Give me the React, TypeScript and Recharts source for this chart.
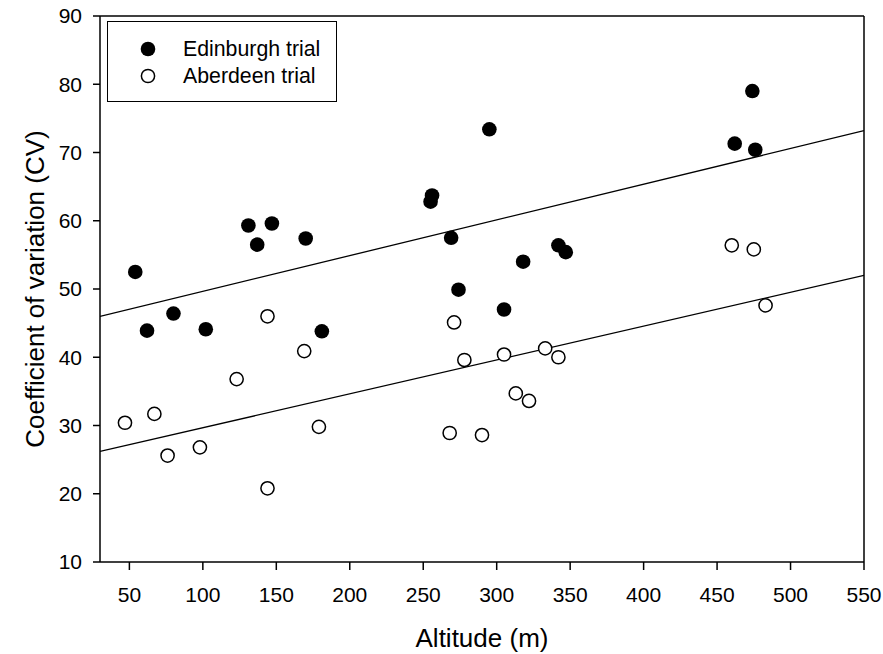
import React from 'react';
import { ScatterChart, Scatter, XAxis, YAxis, ReferenceLine, Legend, Label } from 'recharts';

const edinburghAlt = [54, 62, 80, 102, 181, 131, 147, 137, 170, 295, 256, 255, 269, 274, 305, 318, 342, 347, 474, 462, 476];
const edinburghCV = [52.5, 43.9, 46.4, 44.1, 43.8, 59.3, 59.6, 56.5, 57.4, 73.4, 63.7, 62.8, 57.5, 49.9, 47.0, 54.0, 56.4, 55.4, 79.0, 71.3, 70.4];

const aberdeenAlt = [47, 67, 76, 98, 123, 144, 144, 169, 179, 271, 278, 305, 333, 342, 313, 322, 268, 290, 460, 475, 483];
const aberdeenCV = [30.4, 31.7, 25.6, 26.8, 36.8, 46.0, 20.8, 40.9, 29.8, 45.1, 39.6, 40.4, 41.3, 40.0, 34.7, 33.6, 28.9, 28.6, 56.4, 55.8, 47.6];

const fitAlt = [30, 550];
const edinburghFit = [46.0, 73.2];
const aberdeenFit = [26.2, 52.0];

const xTicks = [50, 100, 150, 200, 250, 300, 350, 400, 450, 500, 550];
const yTicks = [10, 20, 30, 40, 50, 60, 70, 80, 90];

const seriesNames = ['Edinburgh trial', 'Aberdeen trial'];

const edinburgh = edinburghAlt.map((x, i) => ({ x, y: edinburghCV[i] }));
const aberdeen = aberdeenAlt.map((x, i) => ({ x, y: aberdeenCV[i] }));
const edinburghLine = fitAlt.map((x, i) => ({ x, y: edinburghFit[i] }));
const aberdeenLine = fitAlt.map((x, i) => ({ x, y: aberdeenFit[i] }));

const FONT = '"Liberation Sans", Arial, Helvetica, sans-serif';

const FilledDot = (p: any) => <circle cx={p.cx} cy={p.cy} r={7.3} fill="#000" />;
const OpenDot = (p: any) => (
  <circle cx={p.cx} cy={p.cy} r={6.6} fill="#fff" stroke="#000" strokeWidth={1.5} />
);
const NoDot = () => <g />;

const LegendBox = () => (
  <div
    style={{
      width: 230,
      height: 81,
      boxSizing: 'border-box',
      border: '1.5px solid #000',
      background: '#fff',
      position: 'relative',
      fontFamily: FONT,
      fontSize: 21.3,
      color: '#000',
    }}
  >
    {seriesNames.map((name, i) => (
      <div key={name} style={{ position: 'absolute', left: 0, top: 27 + i * 26.5 - 12, height: 24, width: 228 }}>
        <svg width={20} height={20} style={{ position: 'absolute', left: 29.5, top: 2 }}>
          {i === 0 ? (
            <circle cx={10} cy={10} r={7.3} fill="#000" />
          ) : (
            <circle cx={10} cy={10} r={6.6} fill="#fff" stroke="#000" strokeWidth={1.5} />
          )}
        </svg>
        <span style={{ position: 'absolute', left: 75, top: 0, lineHeight: '24px', whiteSpace: 'nowrap' }}>{name}</span>
      </div>
    ))}
  </div>
);

const YTitle = (props: any) => {
  const vb = props.viewBox || {};
  const cx = 35;
  const cy = (vb.y ?? 16) + (vb.height ?? 546) / 2;
  return (
    <text
      x={cx}
      y={cy}
      transform={`rotate(-90, ${cx}, ${cy})`}
      textAnchor="middle"
      dy="0.355em"
      fontFamily={FONT}
      fontSize={26}
      fill="#000"
    >
      Coefficient of variation (CV)
    </text>
  );
};

const XTitle = (props: any) => {
  const vb = props.viewBox || {};
  const cx = (vb.x ?? 100) + (vb.width ?? 764) / 2;
  return (
    <text x={cx} y={646.5} textAnchor="middle" fontFamily={FONT} fontSize={26} fill="#000">
      Altitude (m)
    </text>
  );
};

export default function App() {
  return (
    <div style={{ position: 'absolute', left: 0, top: 0, width: 883, height: 654, background: '#fff' }}>
      <ScatterChart width={883} height={654} margin={{ top: 16, right: 19, left: 0, bottom: 0 }}>
        <XAxis
          type="number"
          dataKey="x"
          domain={[30, 550]}
          ticks={xTicks}
          allowDataOverflow
          height={92}
          tickSize={8}
          tickMargin={17}
          axisLine={{ stroke: '#000', strokeWidth: 1.5 }}
          tickLine={{ stroke: '#000', strokeWidth: 1.5 }}
          tick={{ fill: '#000', fontSize: 21, fontFamily: FONT }}
        >
          <Label content={<XTitle />} />
        </XAxis>
        <YAxis
          type="number"
          dataKey="y"
          domain={[10, 90]}
          ticks={yTicks}
          allowDataOverflow
          width={100}
          tickSize={7}
          tickMargin={11}
          axisLine={{ stroke: '#000', strokeWidth: 1.5 }}
          tickLine={{ stroke: '#000', strokeWidth: 1.5 }}
          tick={{ fill: '#000', fontSize: 21, fontFamily: FONT }}
        >
          <Label content={<YTitle />} />
        </YAxis>
        <ReferenceLine y={90} stroke="#000" strokeWidth={1.5} />
        <ReferenceLine x={550} stroke="#000" strokeWidth={1.5} />
        <Scatter
          name="Edinburgh fit"
          data={edinburghLine}
          line={{ stroke: '#000', strokeWidth: 1.3 }}
          shape={NoDot}
          isAnimationActive={false}
          legendType="none"
        />
        <Scatter
          name="Aberdeen fit"
          data={aberdeenLine}
          line={{ stroke: '#000', strokeWidth: 1.3 }}
          shape={NoDot}
          isAnimationActive={false}
          legendType="none"
        />
        <Scatter name={seriesNames[0]} data={edinburgh} shape={FilledDot} isAnimationActive={false} />
        <Scatter name={seriesNames[1]} data={aberdeen} shape={OpenDot} isAnimationActive={false} />
        <Legend
          layout="vertical"
          align="center"
          verticalAlign="middle"
          content={<LegendBox />}
          wrapperStyle={{ position: 'absolute', left: 107, top: 21, width: 230, height: 81 }}
        />
      </ScatterChart>
    </div>
  );
}
